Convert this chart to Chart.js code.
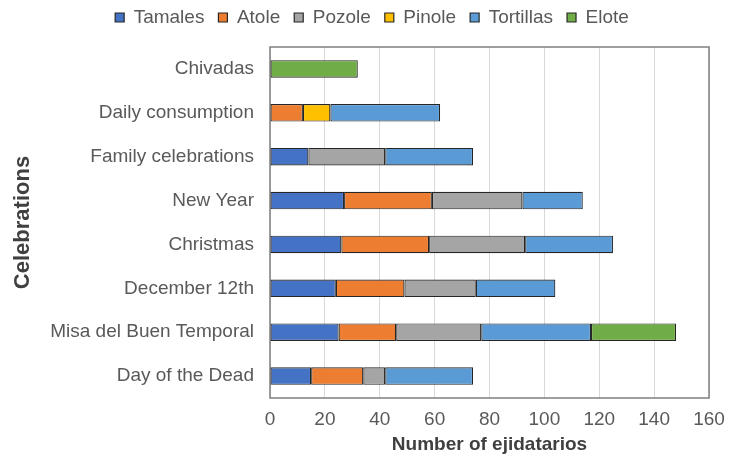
<!DOCTYPE html>
<html>
<head>
<meta charset="utf-8">
<script src="https://cdn.jsdelivr.net/npm/chart.js@4/dist/chart.umd.min.js"></script>
<style>
  html, body { margin: 0; padding: 0; background: #ffffff; }
  #wrap { width: 730px; height: 458px; }
</style>
</head>
<body>
<div id="wrap"><canvas id="c" width="730" height="458"></canvas></div>
<script>
const categories = ["Chivadas", "Daily consumption", "Family celebrations", "New Year", "Christmas", "December 12th", "Misa del Buen Temporal", "Day of the Dead"];
const seriesNames = ["Tamales", "Atole", "Pozole", "Pinole", "Tortillas", "Elote"];
const tamales   = [null, null, 14, 27, 26, 24, 25, 15];
const atole     = [null, 12, null, 32, 32, 25, 21, 19];
const pozole    = [null, null, 28, 33, 35, 26, 31, 8];
const pinole    = [null, 10, null, null, null, null, null, null];
const tortillas = [null, 40, 32, 22, 32, 29, 40, 32];
const elote     = [32, null, null, null, null, null, 31, null];
const xTicks = [0, 20, 40, 60, 80, 100, 120, 140, 160];
const colors = ["#4472C4", "#ED7D31", "#A5A5A5", "#FFC000", "#5B9BD5", "#70AD47"];

const seriesValues = [tamales, atole, pozole, pinole, tortillas, elote];
const FONT = "'Liberation Sans', Arial, sans-serif";

const boxPlugin = {
  id: 'plotBox',
  beforeLayout(chart) {
    if (chart.legend && !chart.legend._patched) {
      const lg = chart.legend;
      const origFit = lg.fit;
      lg.fit = function () { origFit.call(this); this.height = 47; };
      const origDraw = lg.draw;
      lg.draw = function () {
        const ctx = this.ctx;
        ctx.save();
        ctx.translate(0, -6);
        origDraw.call(this);
        ctx.restore();
      };
      lg._patched = true;
    }
  },
  beforeDatasetsDraw(chart) {
    const a = chart.chartArea, ctx = chart.ctx;
    ctx.save();
    ctx.strokeStyle = '#7f7f7f';
    ctx.lineWidth = 1.5;
    ctx.strokeRect(a.left, a.top, a.right - a.left, a.bottom - a.top);
    ctx.restore();
  }
};

new Chart(document.getElementById('c'), {
  type: 'bar',
  data: {
    labels: categories,
    datasets: seriesNames.map((n, i) => ({
      label: n,
      data: seriesValues[i],
      backgroundColor: colors[i],
      borderColor: '#262626',
      borderWidth: 1.2,
      borderSkipped: false,
      categoryPercentage: 1,
      barPercentage: 0.4
    }))
  },
  options: {
    indexAxis: 'y',
    responsive: false,
    animation: false,
    devicePixelRatio: 1,
    layout: { padding: { left: 35, right: 21, top: 0, bottom: 0 } },
    plugins: {
      tooltip: { enabled: false },
      legend: {
        position: 'top',
        align: 'center',
        labels: {
          boxWidth: 9,
          boxHeight: 9,
          padding: 14,
          color: '#595959',
          font: { family: FONT, size: 19 }
        }
      }
    },
    scales: {
      x: {
        stacked: true,
        min: 0,
        max: 160,
        afterBuildTicks(scale) { scale.ticks = xTicks.map(v => ({ value: v })); },
        afterFit(scale) { scale.height = 60; scale.paddingLeft = 0; scale.paddingRight = 0; },
        grid: { color: '#d9d9d9', lineWidth: 1, drawTicks: false },
        border: { display: false },
        ticks: { color: '#595959', padding: 10, font: { family: FONT, size: 19 } },
        title: {
          display: true,
          text: 'Number of ejidatarios',
          color: '#404040',
          padding: { top: 0, bottom: 2 },
          font: { family: FONT, size: 19, weight: 'bold' }
        }
      },
      y: {
        stacked: true,
        afterFit(scale) { scale.width = 235; },
        grid: { display: false, drawTicks: false },
        border: { display: false },
        ticks: { color: '#595959', padding: 16, font: { family: FONT, size: 19 } },
        title: {
          display: true,
          text: 'Celebrations',
          color: '#404040',
          padding: { top: -25, bottom: 0 },
          font: { family: FONT, size: 22, weight: 'bold' }
        }
      }
    }
  },
  plugins: [boxPlugin]
});
</script>
</body>
</html>
